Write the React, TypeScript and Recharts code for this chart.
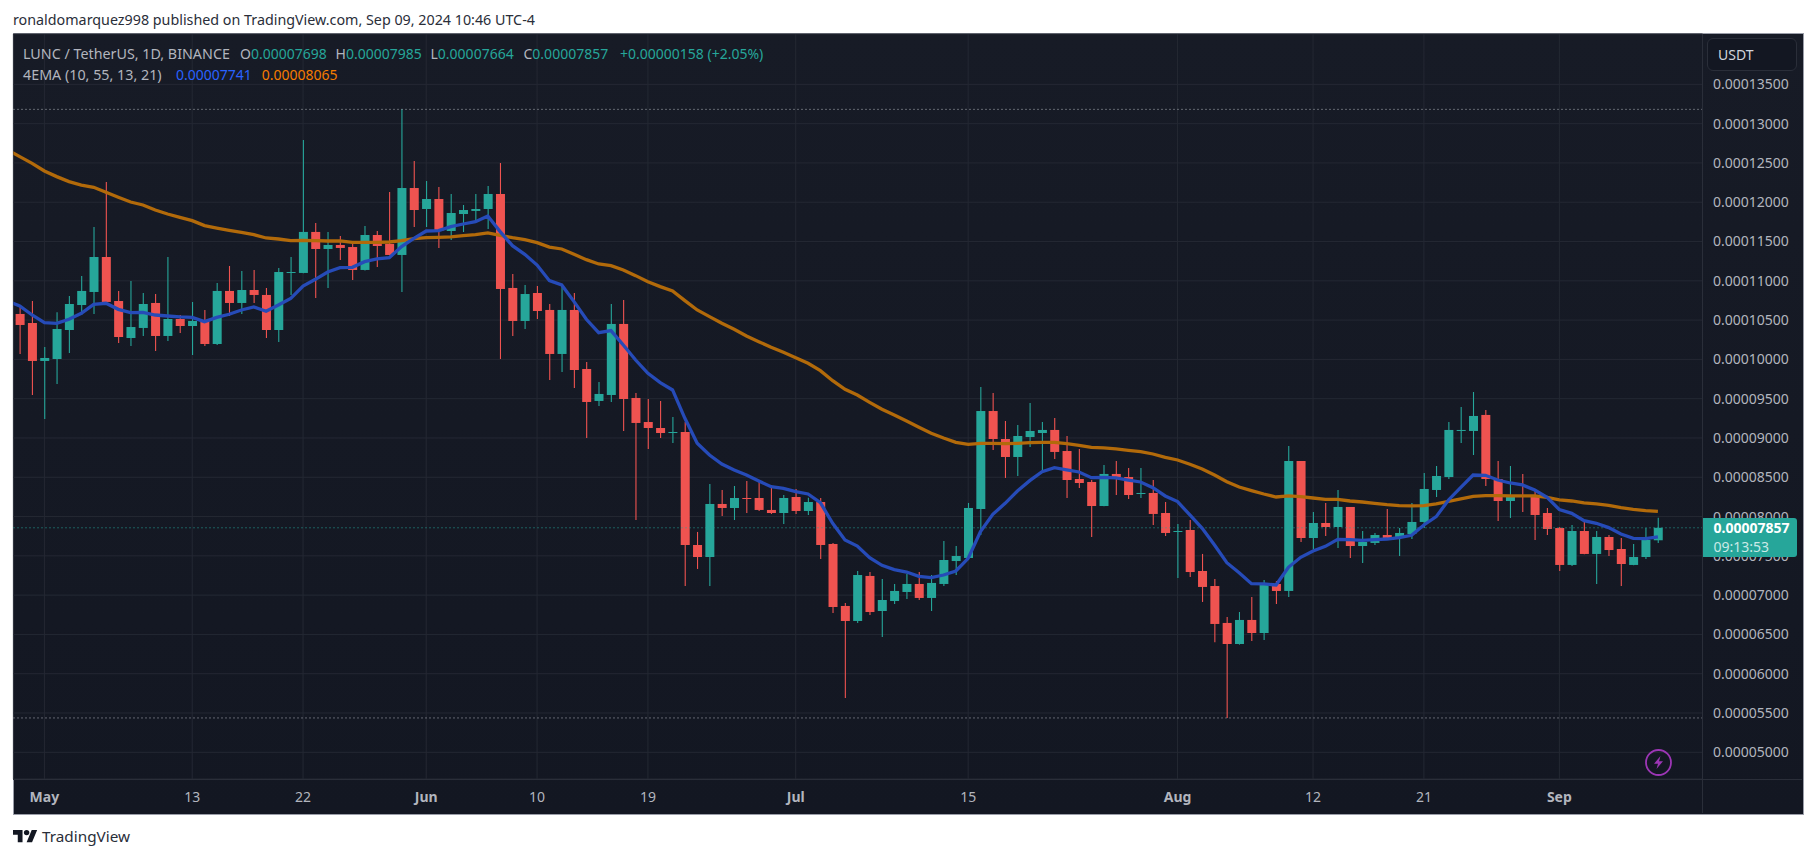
import React from "react";
import { ComposedChart, XAxis, YAxis, CartesianGrid, Line, Bar, ReferenceLine } from "recharts";

// All prices below are in units of 0.00001 USDT. Day 0 = 29 Apr 2024.
const openE5 = [10.578,10.463,9.98,10.005,10.374,10.692,10.858,11.303,10.743,10.272,10.4,10.718,10.298,10.514,10.425,10.489,10.196,10.871,10.718,10.883,10.82,10.374,11.1,11.1,11.622,11.405,11.456,11.43,11.138,11.583,11.469,11.329,12.181,11.914,12.041,11.634,11.85,11.889,11.914,12.105,10.909,10.489,10.845,10.629,10.069,10.629,9.878,9.471,9.547,10.451,9.509,9.203,9.127,9.063,9.076,7.638,7.485,8.16,8.109,8.236,8.236,8.084,8.045,8.249,8.071,8.185,7.651,6.862,6.671,7.244,6.798,6.925,7.04,7.142,6.964,7.142,7.434,7.473,8.096,9.343,8.987,8.758,9.012,9.063,9.102,8.834,8.478,8.44,8.134,8.542,8.503,8.287,8.3,8.045,7.804,7.829,7.307,7.116,6.646,6.378,6.684,6.518,7.142,7.053,8.707,7.727,7.918,7.867,8.122,7.625,7.664,7.765,7.727,7.778,7.931,8.338,8.503,9.089,9.089,9.293,8.478,8.198,8.262,8.249,8.045,7.854,7.384,7.816,7.524,7.74,7.587,7.384,7.485,7.698];
const highE5 = [10.671,10.743,10.158,10.599,10.807,11.061,11.685,12.258,10.871,10.998,10.845,10.832,11.303,10.565,10.731,10.629,10.972,11.189,11.125,11.138,10.909,11.163,11.303,12.792,11.736,11.622,11.571,11.469,11.698,11.634,12.13,13.182,12.525,12.27,12.194,12.105,11.965,12.105,12.207,12.5,11.087,10.947,10.934,10.705,10.921,10.845,9.967,9.712,10.705,10.756,9.573,9.496,9.471,9.267,9.203,7.804,8.414,8.338,8.389,8.453,8.44,8.389,8.274,8.351,8.24,8.236,7.664,6.9,7.307,7.294,7.205,7.142,7.269,7.294,7.256,7.689,7.625,8.173,9.649,9.573,9.216,9.165,9.445,9.203,9.254,9.025,8.86,8.465,8.656,8.707,8.618,8.618,8.465,8.185,7.905,7.956,7.524,7.205,6.722,6.785,6.976,7.193,7.18,8.898,8.707,8.058,8.173,8.338,8.122,7.816,7.791,8.096,7.854,8.173,8.554,8.643,9.203,9.394,9.585,9.356,8.707,8.643,8.542,8.325,8.109,7.867,7.893,7.944,7.816,7.765,7.727,7.651,7.854,7.985];
const lowE5 = [10.069,9.547,9.242,9.687,10.082,10.565,10.578,10.725,10.209,10.171,10.298,10.107,10.234,10.336,10.056,10.171,10.183,10.552,10.578,10.718,10.272,10.222,10.82,11.095,10.782,10.909,11.265,11.011,11.13,11.176,11.325,10.858,11.685,11.685,11.418,11.52,11.622,11.761,11.66,10.005,10.298,10.387,10.514,9.738,9.84,9.636,9,9.407,9.458,9.089,7.956,8.86,9,8.936,7.116,7.333,7.116,8.007,7.956,8.045,8.071,8.033,7.905,8.033,8.02,7.46,6.773,5.691,6.646,6.747,6.467,6.887,6.951,6.938,6.798,7.116,7.256,7.47,7.765,8.847,8.491,8.516,8.885,8.567,8.733,8.236,8.363,7.74,8.13,8.274,8.224,8.236,7.893,7.753,7.218,7.231,6.913,6.4,5.437,6.37,6.416,6.429,6.887,6.976,7.676,7.587,7.753,7.6,7.473,7.409,7.638,7.714,7.498,7.714,7.854,8.249,8.478,8.936,8.783,8.389,7.944,7.982,8.058,7.702,7.765,7.307,7.371,7.52,7.142,7.498,7.116,7.38,7.46,7.664];
const closeE5 = [10.438,9.98,10.018,10.387,10.705,10.871,11.303,10.731,10.285,10.412,10.705,10.298,10.514,10.425,10.489,10.196,10.871,10.718,10.883,10.82,10.374,11.112,11.112,11.622,11.405,11.456,11.418,11.138,11.583,11.443,11.329,12.181,11.901,12.041,11.634,11.863,11.901,11.914,12.105,10.896,10.489,10.832,10.616,10.069,10.629,9.865,9.458,9.56,10.451,9.496,9.191,9.127,9.063,9.076,7.638,7.485,8.16,8.109,8.236,8.224,8.084,8.045,8.236,8.071,8.185,7.638,6.849,6.671,7.256,6.785,6.938,7.053,7.142,6.964,7.155,7.447,7.498,8.109,9.343,8.987,8.758,9.025,9.089,9.102,8.822,8.465,8.427,8.134,8.542,8.503,8.274,8.3,8.033,7.791,7.816,7.294,7.104,6.633,6.378,6.684,6.518,7.142,7.053,8.707,7.727,7.918,7.867,8.122,7.625,7.676,7.765,7.727,7.791,7.931,8.351,8.516,9.102,9.102,9.28,8.478,8.198,8.262,8.249,8.02,7.842,7.384,7.816,7.524,7.74,7.574,7.396,7.485,7.702,7.857];

// EMA series start one day earlier (day -1), the chart's left edge cuts through that segment.
const emaFastE5 = [10.743,10.68,10.565,10.468,10.459,10.51,10.586,10.701,10.714,10.637,10.595,10.599,10.565,10.552,10.54,10.535,10.48,10.535,10.574,10.629,10.667,10.612,10.692,10.777,10.934,11.019,11.112,11.167,11.172,11.244,11.278,11.295,11.435,11.541,11.634,11.638,11.689,11.723,11.753,11.825,11.626,11.447,11.337,11.201,11.002,10.947,10.735,10.51,10.34,10.366,10.183,9.992,9.823,9.704,9.611,9.25,8.932,8.783,8.669,8.593,8.529,8.453,8.38,8.359,8.317,8.287,8.177,7.914,7.702,7.625,7.477,7.379,7.324,7.294,7.239,7.222,7.256,7.307,7.468,7.808,8.028,8.168,8.325,8.457,8.571,8.622,8.593,8.567,8.495,8.499,8.491,8.465,8.44,8.368,8.262,8.19,8.02,7.85,7.638,7.413,7.286,7.146,7.142,7.129,7.354,7.481,7.562,7.621,7.71,7.706,7.697,7.706,7.714,7.731,7.761,7.893,7.999,8.211,8.372,8.529,8.525,8.465,8.427,8.402,8.338,8.245,8.088,8.041,7.948,7.914,7.859,7.778,7.723,7.719,7.741];
const emaSlowE5 = [12.665,12.58,12.495,12.398,12.326,12.262,12.219,12.19,12.126,12.063,12.003,11.965,11.901,11.85,11.808,11.766,11.702,11.672,11.643,11.617,11.587,11.545,11.532,11.511,11.515,11.511,11.507,11.507,11.49,11.49,11.49,11.494,11.511,11.537,11.549,11.553,11.558,11.575,11.587,11.609,11.579,11.549,11.524,11.486,11.43,11.405,11.337,11.269,11.214,11.193,11.138,11.066,10.989,10.926,10.871,10.748,10.629,10.544,10.459,10.383,10.298,10.226,10.154,10.09,10.022,9.95,9.857,9.729,9.619,9.547,9.454,9.365,9.293,9.216,9.136,9.059,9,8.945,8.919,8.932,8.932,8.927,8.932,8.94,8.945,8.945,8.927,8.907,8.881,8.873,8.86,8.843,8.826,8.796,8.754,8.72,8.665,8.605,8.529,8.444,8.376,8.33,8.287,8.249,8.262,8.253,8.236,8.219,8.219,8.198,8.185,8.168,8.151,8.139,8.135,8.139,8.16,8.194,8.224,8.257,8.266,8.266,8.262,8.262,8.262,8.245,8.211,8.198,8.173,8.16,8.143,8.113,8.092,8.075,8.065];

const priceTicksE5 = [5,5.5,6,6.5,7,7.5,8,8.5,9,9.5,10,10.5,11,11.5,12,12.5,13,13.5];
const dateTickDays = [2,14,23,33,42,51,63,77,94,105,114,125];
const dateTickLabels = ["May","13","22","Jun","10","19","Jul","15","Aug","12","21","Sep"];
const monthLabels = ["May","Jun","Jul","Aug","Sep"];
const lastPriceE5 = 7.857;
const periodHighE5 = 13.182;
const periodLowE5 = 5.437;

const UNIT = 1e-5;
const rows = emaFastE5.map((fast, i) => {
  const c = i - 1;
  const has = c >= 0;
  return {
    day: c,
    fast: fast * UNIT,
    slow: emaSlowE5[i] * UNIT,
    open: has ? openE5[c] * UNIT : null,
    close: has ? closeE5[c] * UNIT : null,
    high: has ? highE5[c] * UNIT : null,
    low: has ? lowE5[c] * UNIT : null,
    range: has ? [lowE5[c] * UNIT, highE5[c] * UNIT] : null,
  };
});

const FONT = '"Noto Sans", sans-serif';
const UP = "#26a69a";
const DOWN = "#ef5350";

function Candle(props: any) {
  const { x, y, width, height, payload } = props;
  if (!payload || payload.high == null || !Number.isFinite(y)) return null;
  const span = payload.high - payload.low;
  const k = span > 0 ? height / span : 0;
  const cx = x + width / 2;
  const color = payload.close >= payload.open ? UP : DOWN;
  const bodyTop = y + (payload.high - Math.max(payload.open, payload.close)) * k;
  const bodyBottom = y + (payload.high - Math.min(payload.open, payload.close)) * k;
  return (
    <g>
      <line x1={cx} x2={cx} y1={y} y2={y + height} stroke={color} strokeWidth={1.1} />
      <rect x={x} y={bodyTop} width={width} height={Math.max(bodyBottom - bodyTop, 1)} fill={color} />
    </g>
  );
}

function DateTick(props: any) {
  const { x, y, payload } = props;
  const label = dateTickLabels[dateTickDays.indexOf(payload.value)];
  return (
    <text x={x} y={y} textAnchor="middle" dominantBaseline="central" fontFamily={FONT} fontSize={14}
      fontWeight={monthLabels.includes(label) ? 700 : 400} fill="#b2b5be">
      {label}
    </text>
  );
}

function Abs({ left, top, color, size = 14, weight = 400, children }: any) {
  return (
    <div style={{ position: "absolute", left, top, transform: "translateY(-50%)", color, fontSize: size, fontWeight: weight, fontFamily: FONT, whiteSpace: "nowrap", lineHeight: 1 }}>
      {children}
    </div>
  );
}

const LABEL = "#b2b5be";
const TEAL = "#26a69a";

export default function App() {
  return (
    <div style={{ position: "absolute", left: 0, top: 0, width: 1815, height: 858, background: "#fff", overflow: "hidden" }}>
      <Abs left={13} top={20} color="#2a2e39" size={14.3}>ronaldomarquez998 published on TradingView.com, Sep 09, 2024 10:46 UTC-4</Abs>
      <div style={{ position: "absolute", left: 12.5, top: 33, width: 1789, height: 780, boxSizing: "content-box", border: "1.5px solid #9a9da8", background: "linear-gradient(180deg,#171b26 0%,#131722 100%)" }} />
      <div style={{ position: "absolute", left: 0, top: 0 }}>
        <ComposedChart width={1815} height={858} data={rows} margin={{ top: 34, left: 13.4, right: 13.4, bottom: 44.5 }}>
          <CartesianGrid stroke="#242833" strokeWidth={1} />
          <XAxis dataKey="day" type="number" domain={[-0.517, 136.62]} allowDataOverflow ticks={dateTickDays} interval={0}
            height={34.5} tickLine={false} axisLine={false} tickMargin={0} tickSize={0} tick={(p: any) => <DateTick {...p} y={796.7} />} />
          <YAxis orientation="right" type="number" width={99.1} domain={[4.66 * UNIT, 14.141 * UNIT]} allowDataOverflow
            ticks={priceTicksE5.map((t) => t * UNIT)} interval={0} tickLine={false} axisLine={false} tickSize={0} tickMargin={10.5}
            tickFormatter={(v: number) => v.toFixed(8)} tick={{ fill: "#b2b5be", fontSize: 14, fontFamily: FONT }} />
          <ReferenceLine y={periodHighE5 * UNIT} stroke="#b2b5be" strokeDasharray="1 3" strokeWidth={1} />
          <ReferenceLine y={periodLowE5 * UNIT} stroke="#b2b5be" strokeDasharray="1 3" strokeWidth={1} />
          <ReferenceLine y={lastPriceE5 * UNIT} stroke={TEAL} strokeDasharray="1 3" strokeWidth={1} />
          <Line dataKey="slow" type="linear" stroke="#b26a0a" strokeWidth={3.3} dot={false} activeDot={false} isAnimationActive={false} />
          <Line dataKey="fast" type="linear" stroke="#264bb8" strokeWidth={3.3} dot={false} activeDot={false} isAnimationActive={false} />
          <Bar dataKey="range" barSize={9} shape={Candle} isAnimationActive={false} />
        </ComposedChart>
      </div>
      <div style={{ position: "absolute", left: 13, top: 779, width: 1789, height: 1, background: "#2a2e39" }} />
      <div style={{ position: "absolute", left: 1702, top: 34, width: 1, height: 779, background: "#2a2e39" }} />

      <Abs left={23} top={53.7} color={LABEL} size={14.3}>LUNC / TetherUS, 1D, BINANCE</Abs>
      <Abs left={240} top={53.7} color={LABEL}>O<span style={{ color: TEAL }}>0.00007698</span></Abs>
      <Abs left={335.5} top={53.7} color={LABEL}>H<span style={{ color: TEAL }}>0.00007985</span></Abs>
      <Abs left={430.5} top={53.7} color={LABEL}>L<span style={{ color: TEAL }}>0.00007664</span></Abs>
      <Abs left={523.5} top={53.7} color={LABEL}>C<span style={{ color: TEAL }}>0.00007857</span></Abs>
      <Abs left={620} top={53.7} color={TEAL}>+0.00000158 (+2.05%)</Abs>
      <Abs left={23} top={74.7} color={LABEL} size={14.3}>4EMA (10, 55, 13, 21)</Abs>
      <Abs left={176} top={74.7} color="#2962ff">0.00007741</Abs>
      <Abs left={261.8} top={74.7} color="#f57c00">0.00008065</Abs>

      <div style={{ position: "absolute", left: 1706.8, top: 38.3, width: 90, height: 33, boxSizing: "border-box", border: "1.5px solid #2a2e39", borderRadius: 6, background: "#131722" }} />
      <Abs left={1718} top={54.7} color="#d1d4dc">USDT</Abs>

      <div style={{ position: "absolute", left: 1703, top: 518, width: 94, height: 38.7, background: TEAL, borderRadius: "0 3px 3px 0" }} />
      <Abs left={1713.5} top={528} color="#ffffff" weight={700}>0.00007857</Abs>
      <Abs left={1713.5} top={546.7} color="#c9e9e6">09:13:53</Abs>

      <svg style={{ position: "absolute", left: 1644, top: 748 }} width={29} height={29} viewBox="0 0 29 29">
        <circle cx={14.5} cy={14.5} r={12.5} fill="none" stroke="#9c36b5" strokeWidth={1.8} />
        <path d="M16.5 8 L10 15.8 H14 L12.5 21 L19 13.2 H15 Z" fill="#9c36b5" />
      </svg>

      <svg style={{ position: "absolute", left: 13, top: 829 }} width={24.5} height={14} viewBox="0 4 36 18">
        <path d="M14 22H7V11H0V4h14v18zM28 22h-8l7.5-18h8L28 22z" fill="#131722" />
        <circle cx={20} cy={8} r={4} fill="#131722" />
      </svg>
      <Abs left={42} top={836.5} color="#2a2e39" size={15.3}>TradingView</Abs>
    </div>
  );
}
